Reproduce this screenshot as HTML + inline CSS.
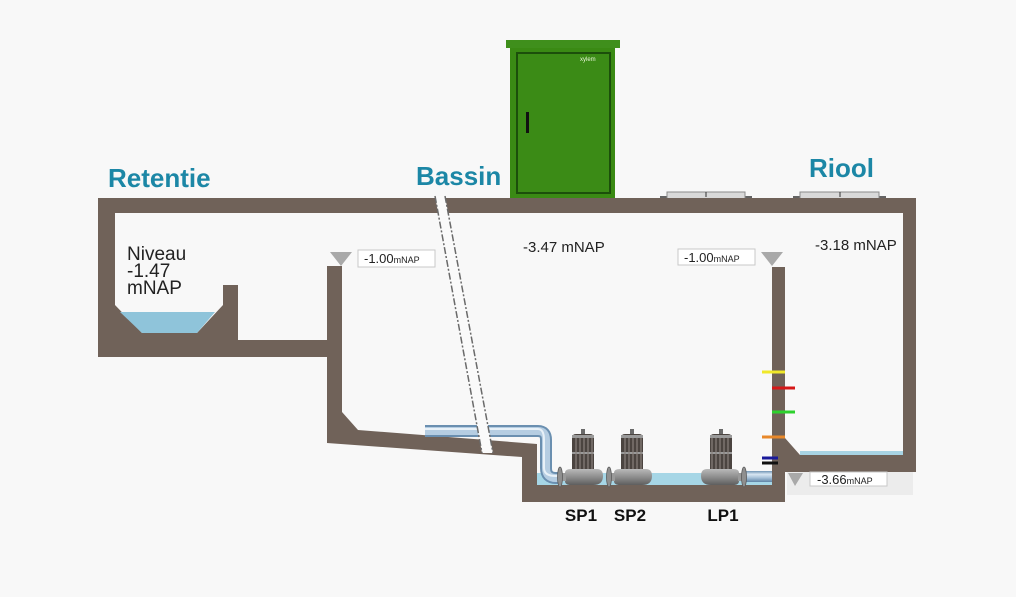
<!DOCTYPE html>
<html><head><meta charset="utf-8"><style>
html,body{margin:0;padding:0;background:#f8f8f8;}
svg{display:block;}
text{font-family:"Liberation Sans",sans-serif;}
</style></head><body>
<svg width="1016" height="597" viewBox="0 0 1016 597" xmlns="http://www.w3.org/2000/svg">
<defs>
<linearGradient id="pipeg" x1="0" y1="0" x2="0" y2="1">
<stop offset="0" stop-color="#6f93b4"/><stop offset="0.3" stop-color="#d8e6f2"/><stop offset="0.6" stop-color="#a9c3da"/><stop offset="1" stop-color="#5f84a6"/>
</linearGradient>
<linearGradient id="baseg" x1="0" y1="0" x2="0" y2="1">
<stop offset="0" stop-color="#b9b9b9"/><stop offset="0.5" stop-color="#8e8e8e"/><stop offset="1" stop-color="#5e5e5e"/>
</linearGradient>
<g id="pump">
<rect x="-2" y="-14" width="4" height="10" fill="#6a6a6a"/>
<path d="M-11,-5 Q-11,-9 -7,-9 H7 Q11,-9 11,-5 V28 H-11 Z" fill="#4b4440"/>
<rect x="-11" y="-8" width="22" height="3" fill="#9a9a9a"/>
<rect x="-11" y="9" width="22" height="2" fill="#9a9a9a"/>
<g stroke="#8a827c" stroke-width="1.2">
<line x1="-7" y1="-5" x2="-7" y2="27"/><line x1="-3" y1="-5" x2="-3" y2="27"/>
<line x1="1" y1="-5" x2="1" y2="27"/><line x1="5" y1="-5" x2="5" y2="27"/><line x1="9" y1="-5" x2="9" y2="27"/>
</g>
<path d="M-18,30 Q-18,26 -12,26 H14 Q20,26 20,33 Q20,42 10,42 H-12 Q-18,42 -18,38 Z" fill="url(#baseg)"/>
<rect x="-23" y="30" width="6" height="8" fill="#9a9a9a"/>
<ellipse cx="-23" cy="34" rx="2.5" ry="10" fill="#8f8f8f" stroke="#5a5a5a" stroke-width="0.8"/>
</g>
</defs>

<!-- Labels -->
<text x="108" y="187" font-size="26" font-weight="bold" fill="#1c87a6">Retentie</text>
<text x="416" y="185" font-size="26" font-weight="bold" fill="#1c87a6">Bassin</text>
<text x="809" y="177" font-size="26" font-weight="bold" fill="#1c87a6">Riool</text>

<!-- Cabinet -->
<rect x="506" y="40" width="114" height="8" fill="#3f8f1c"/>
<rect x="510" y="48" width="105" height="150" fill="#3a8a14"/>
<rect x="517" y="53" width="93" height="140" fill="#3b8b16" stroke="#1c4f0b" stroke-width="2"/>
<rect x="526" y="112" width="3" height="21" fill="#111"/>
<text x="580" y="61" font-size="6" fill="#e8f5d8">xylem</text>

<!-- Manhole covers -->
<line x1="660" y1="197" x2="752" y2="197" stroke="#333" stroke-width="1.5"/>
<rect x="667" y="192" width="78" height="10" fill="#d9d9d9" stroke="#8a8a8a" stroke-width="1"/>
<line x1="706" y1="192" x2="706" y2="197" stroke="#333" stroke-width="1"/>
<line x1="793" y1="197" x2="886" y2="197" stroke="#333" stroke-width="1.5"/>
<rect x="800" y="192" width="79" height="10" fill="#d9d9d9" stroke="#8a8a8a" stroke-width="1"/>
<line x1="840" y1="192" x2="840" y2="197" stroke="#333" stroke-width="1"/>

<!-- Walls -->
<g fill="#706259">
<rect x="98" y="198" width="818" height="15"/>
<rect x="98" y="198" width="17" height="159"/>
<polygon points="115,305 142,333 197,333 223,305 223,285 238,285 238,341 115,341"/>
<rect x="98" y="340" width="244" height="17"/>
<polygon points="327,266 342,266 342,412 358,430 537,444 537,485 772,485 772,267 785,267 785,438 800,455 903,455 903,213 916,213 916,472 785,472 785,502 522,502 522,457 327,443"/>
</g>

<!-- Water -->
<polygon points="120,312 215,312 197,333 142,333" fill="#8fc4da"/>
<rect x="537" y="473" width="235" height="12" fill="#a6d6e6"/>
<rect x="800" y="451" width="103" height="4" fill="#a8d4e4"/>

<!-- Text -->
<text font-size="19" fill="#222"><tspan x="127" y="260">Niveau</tspan><tspan x="127" y="277">-1.47</tspan><tspan x="127" y="294">mNAP</tspan></text>
<text x="523" y="252" font-size="15" fill="#222">-3.47 mNAP</text>
<text x="815" y="250" font-size="15" fill="#222">-3.18 mNAP</text>

<!-- Level markers -->
<polygon points="330,252 352,252 341,266" fill="#a9a9a9"/>
<rect x="358" y="250" width="77" height="17" fill="#fff" stroke="#c8c8c8"/>
<text x="364" y="263" font-size="13" fill="#222">-1.00<tspan font-size="9">mNAP</tspan></text>
<polygon points="761,252 783,252 772,266" fill="#a9a9a9"/>
<rect x="678" y="249" width="77" height="16" fill="#fff" stroke="#c8c8c8"/>
<text x="684" y="262" font-size="13" fill="#222">-1.00<tspan font-size="9">mNAP</tspan></text>
<rect x="787" y="472" width="126" height="23" fill="#ececec"/>
<polygon points="788,473 803,473 795,486" fill="#a9a9a9"/>
<rect x="810" y="472" width="77" height="14" fill="#fff" stroke="#c8c8c8"/>
<text x="817" y="484" font-size="13" fill="#222">-3.66<tspan font-size="9">mNAP</tspan></text>

<!-- Color markers -->
<g stroke-width="3">
<line x1="762" y1="372" x2="785" y2="372" stroke="#f0e82a"/>
<line x1="772" y1="388" x2="795" y2="388" stroke="#d61818"/>
<line x1="772" y1="412" x2="795" y2="412" stroke="#2ed12e"/>
<line x1="762" y1="437" x2="785" y2="437" stroke="#e8882a"/>
<line x1="762" y1="458" x2="778" y2="458" stroke="#1a1a9a"/>
<line x1="762" y1="463" x2="778" y2="463" stroke="#111"/>
</g>

<!-- Pipes -->
<path d="M425,431 H538 Q546,431 546,440 V468 Q546,478 556,478 H562" fill="none" stroke="#6a8fb0" stroke-width="12"/>
<path d="M425,431 H538 Q546,431 546,440 V468 Q546,478 556,478 H562" fill="none" stroke="#b5cde2" stroke-width="8"/>
<path d="M425,429 H538 Q544,429 544,440 V468 Q544,476 556,476 H562" fill="none" stroke="#e8f1f8" stroke-width="2"/>
<rect x="742" y="471" width="30" height="11" fill="url(#pipeg)"/>

<!-- Bassin tube -->
<polygon points="435,196 445,196 493,453 482,453" fill="#fafafa"/>
<line x1="435" y1="196" x2="482" y2="453" stroke="#6a6a6a" stroke-width="1.5" stroke-dasharray="7,2,2,2"/>
<line x1="445" y1="196" x2="493" y2="453" stroke="#6a6a6a" stroke-width="1.5" stroke-dasharray="7,2,2,2"/>

<!-- Pumps -->
<use href="#pump" x="583" y="443"/>
<use href="#pump" x="632" y="443"/>
<use href="#pump" transform="translate(721,443) scale(-1,1)"/>

<text x="581" y="521" font-size="17" font-weight="bold" fill="#111" text-anchor="middle">SP1</text>
<text x="630" y="521" font-size="17" font-weight="bold" fill="#111" text-anchor="middle">SP2</text>
<text x="723" y="521" font-size="17" font-weight="bold" fill="#111" text-anchor="middle">LP1</text>
</svg>
</body></html>
